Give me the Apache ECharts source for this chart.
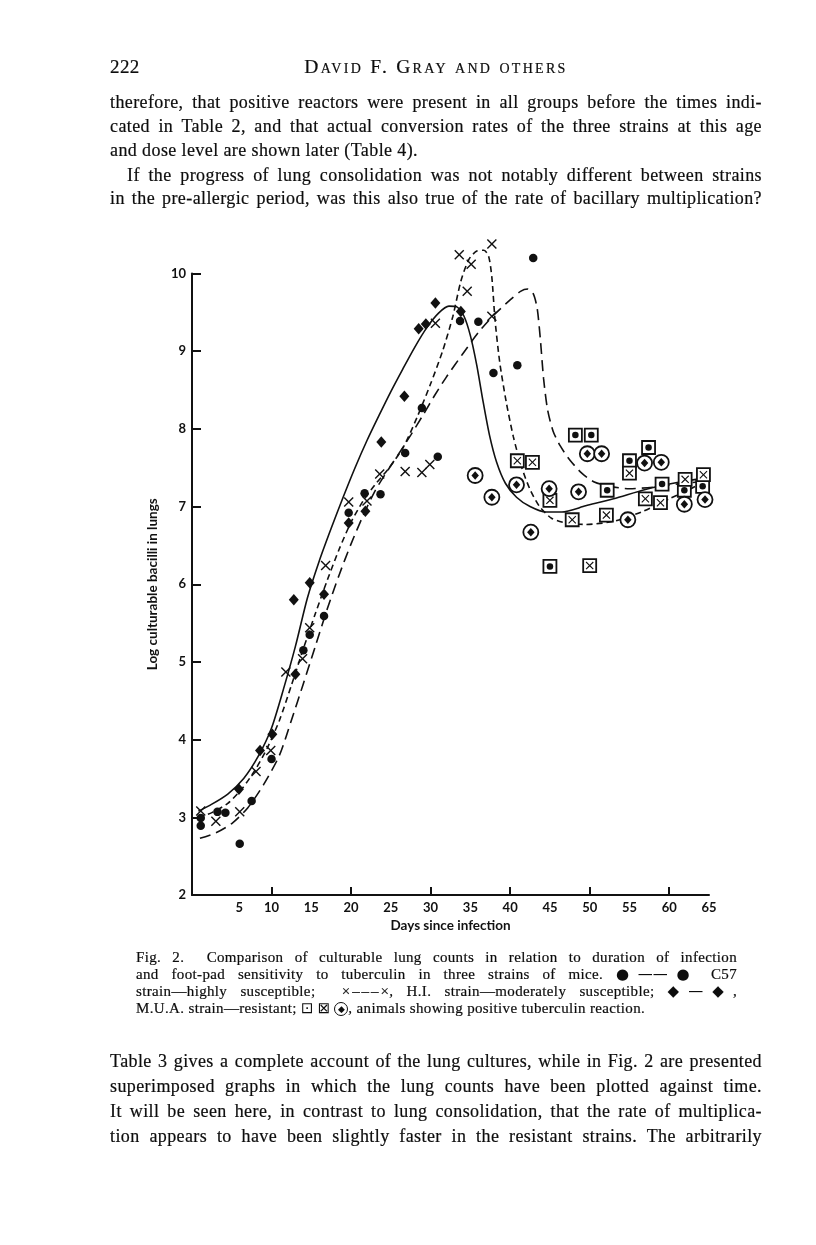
<!DOCTYPE html>
<html>
<head>
<meta charset="utf-8">
<script src="https://cdn.jsdelivr.net/npm/echarts@6/dist/echarts.min.js"></script>
<style>
  html,body{margin:0;padding:0;background:#fff;}
  #page{position:relative;width:816px;height:1245px;overflow:hidden;background:#fff;}
  #chart{position:absolute;left:0;top:0;width:816px;height:1245px;z-index:1;}
  .ln{position:absolute;white-space:nowrap;font-family:'Liberation Serif','Times New Roman',serif;font-size:18px;line-height:24px;letter-spacing:0.4px;color:#0d0d0d;z-index:2;-webkit-text-stroke:0.2px #0d0d0d;}
  .cap{font-size:15px;line-height:17px;letter-spacing:0.35px;}
  .j{text-align:justify;text-align-last:justify;}
  .sc{font-variant:small-caps;letter-spacing:2.3px;font-size:19.5px;}
  .cd{display:inline-block;width:0.8em;height:0.8em;border:1.3px solid #0d0d0d;border-radius:50%;text-align:center;line-height:0.8em;vertical-align:-1px;-webkit-text-stroke:0;letter-spacing:0;}
  .cd span{font-size:0.6em;vertical-align:top;}
  .sym{font-family:'DejaVu Sans',sans-serif;-webkit-text-stroke:0;letter-spacing:0;}
</style>
</head>
<body>
<div id="page">
  <div id="chart"></div>

  <div class="ln" style="top:55px;left:110px;font-size:19px;">222</div>
  <div class="ln sc" style="top:55px;left:276px;width:320px;text-align:center;">David F. Gray and others</div>

  <div class="ln bt j" data-w="652" style="top:89.5px;left:110px;">therefore, that positive reactors were present in all groups before the times indi-</div>
  <div class="ln bt j" data-w="652" style="top:114px;left:110px;">cated in Table 2, and that actual conversion rates of the three strains at this age</div>
  <div class="ln bt" style="top:138px;left:110px;">and dose level are shown later (Table 4).</div>
  <div class="ln bt j" data-w="635" style="top:162.5px;left:127px;">If the progress of lung consolidation was not notably different between strains</div>
  <div class="ln bt j" data-w="652" style="top:186px;left:110px;">in the pre-allergic period, was this also true of the rate of bacillary multiplication?</div>

  <div class="ln cap cg j" data-w="601" style="top:949px;left:136px;">Fig. 2.&nbsp; Comparison of culturable lung counts in relation to duration of infection</div>
  <div class="ln cap cg j" data-w="601" style="top:966px;left:136px;">and foot-pad sensitivity to tuberculin in three strains of mice. <span class="sym">●——●</span> C57</div>
  <div class="ln cap cg j" data-w="601" style="top:983px;left:136px;">strain—highly susceptible; &nbsp;×&#8202;–&#8202;–&#8202;–&#8202;×, H.I. strain—moderately susceptible; <span class="sym">◆—◆</span>,</div>
  <div class="ln cap cg" style="top:1000px;left:136px;">M.U.A. strain—resistant; <span class="sym">⊡</span> <span class="sym">⊠</span> <span class="cd"><span>◆</span></span>, animals showing positive tuberculin reaction.</div>

  <div class="ln bt j" data-w="652" style="top:1049px;left:110px;">Table 3 gives a complete account of the lung cultures, while in Fig. 2 are presented</div>
  <div class="ln bt j" data-w="652" style="top:1074px;left:110px;">superimposed graphs in which the lung counts have been plotted against time.</div>
  <div class="ln bt j" data-w="652" style="top:1099px;left:110px;">It will be seen here, in contrast to lung consolidation, that the rate of multiplica-</div>
  <div class="ln bt j" data-w="652" style="top:1124px;left:110px;">tion appears to have been slightly faster in the resistant strains. The arbitrarily</div>
</div>

<script>
// ---------- data (days since infection, log culturable bacilli) ----------
// fitted curves
const c57Curve = [[1.0,2.73],[3,2.8],[5,2.92],[7,3.12],[9,3.42],[11,3.8],[12.5,4.25],[14,4.72],[15.5,5.2],[17,5.68],[18.5,6.12],[20,6.52],[21.5,6.88],[23,7.2],[24.5,7.45],[26,7.68],[27.5,7.92],[29,8.17],[30.5,8.43],[32,8.67],[34,8.96],[36,9.24],[38,9.47],[40,9.66],[41.3,9.77],[42.2,9.8],[42.9,9.74],[43.4,9.55],[43.8,9.15],[44.2,8.65],[44.7,8.25],[45.4,7.97],[46.3,7.78],[47.5,7.6],[49,7.43],[50.5,7.32],[52.5,7.26],[55,7.23],[58,7.25],[61,7.29],[64,7.32]];
const hiCurve = [[0.8,3.0],[2.5,3.06],[4.5,3.18],[6.3,3.37],[8,3.62],[9.5,3.9],[11,4.25],[12.5,4.7],[14,5.17],[15.5,5.62],[17,6.05],[18.5,6.45],[20,6.8],[21.5,7.07],[23,7.28],[24.8,7.5],[26.6,7.77],[28.3,8.15],[30,8.58],[31.5,9.0],[32.8,9.45],[33.8,9.9],[34.8,10.18],[35.8,10.29],[36.7,10.3],[37.3,10.22],[37.7,9.95],[38.1,9.4],[38.7,8.85],[39.5,8.35],[40.4,7.9],[41.4,7.52],[42.5,7.22],[43.7,7.0],[45.2,6.85],[47,6.79],[49.5,6.77],[53,6.81],[56.5,6.93],[60,7.1],[62.5,7.22],[64,7.3]];
const muaCurve = [[0.8,3.08],[2.5,3.17],[4.5,3.3],[6.5,3.5],[8.3,3.78],[10,4.15],[11.5,4.65],[13,5.2],[14.5,5.82],[16,6.3],[17.5,6.72],[19,7.12],[20.5,7.5],[22,7.85],[23.5,8.17],[25,8.48],[26.5,8.77],[28,9.05],[29.5,9.3],[31,9.49],[32.3,9.58],[33.3,9.57],[34.2,9.45],[35,9.2],[35.8,8.82],[36.6,8.35],[37.4,7.92],[38.3,7.57],[39.4,7.3],[40.8,7.12],[42.5,7.0],[44.5,6.93],[46.5,6.93],[49.5,7.01],[53,7.1],[57,7.22],[61,7.31],[64,7.36]];

// individual animals, tuberculin negative
const c57Points = [[1.1,2.99],[1.1,2.89],[3.2,3.07],[4.2,3.06],[6.0,2.66],[7.5,3.21],[10.0,3.75],[14.0,5.15],[14.8,5.35],[16.6,5.59],[19.7,6.92],[21.7,7.17],[23.7,7.16],[26.8,7.69],[28.9,8.27],[30.9,7.64],[33.7,9.39],[36.0,9.38],[37.9,8.72],[40.9,8.82],[42.9,10.2]];
const hiPoints = [[1.1,3.08],[3.0,2.95],[6.0,3.07],[8.05,3.59],[9.9,3.86],[11.8,4.87],[13.9,5.04],[14.8,5.44],[16.8,6.24],[19.7,7.06],[22.0,7.07],[23.6,7.42],[26.8,7.45],[28.9,7.44],[29.9,7.54],[30.6,9.36],[33.6,10.24],[34.6,9.77],[35.1,10.12],[37.7,10.38],[37.7,9.45]];
const muaPoints = [[5.9,3.36],[8.55,3.86],[10.1,4.07],[12.8,5.80],[13.0,4.84],[14.8,6.02],[16.6,5.87],[19.7,6.79],[21.8,6.94],[23.8,7.83],[26.7,8.42],[28.5,9.29],[29.4,9.35],[30.6,9.62],[33.8,9.51]];

// individual animals, positive tuberculin reaction
const c57Positive = [[48.2,7.92],[50.2,7.92],[57.4,7.76],[55.0,7.59],[52.2,7.21],[59.1,7.29],[61.9,7.21],[64.2,7.26],[45.0,6.23]];
const hiPositive = [[40.9,7.59],[42.8,7.57],[55.0,7.43],[45.0,7.08],[57.0,7.10],[58.9,7.05],[62.0,7.35],[64.3,7.41],[47.8,6.83],[52.1,6.89],[50.0,6.24]];
const muaPositive = [[49.7,7.68],[51.5,7.68],[56.9,7.56],[59.0,7.57],[35.6,7.40],[37.7,7.12],[40.8,7.28],[44.9,7.23],[48.6,7.19],[61.9,7.03],[64.5,7.09],[54.8,6.83],[42.6,6.67]];

// axes
const xLabelValues = [5,10,15,20,25,30,35,40,45,50,55,60,65];
const xTickValues = [10,20,30,40,50,60];
const yLabelValues = [2,3,4,5,6,7,8,9,10];
const xName = 'Days since infection';
const yName = 'Log culturable bacilli in lungs';

// ---------- chart ----------
const INK = '#111111';
const crossPath = 'path://M0,1L1,0L5,4L9,0L10,1L6,5L10,9L9,10L5,6L1,10L0,9L4,5Z';
const axisFont = {fontFamily: 'Lato', fontWeight: 'bold', fontSize: 13, color: INK};

function curve(data, type) {
  return {type: 'line', data: data, symbol: 'none', smooth: 0.25, clip: false, z: 1,
          lineStyle: {color: INK, width: 1.6, type: type}, silent: true};
}
function pts(data, symbol, size, style, z) {
  return {type: 'scatter', data: data, symbol: symbol, symbolSize: size, clip: false, z: z,
          itemStyle: Object.assign({opacity: 1}, style), silent: true};
}

const chart = echarts.init(document.getElementById('chart'), null, {renderer: 'canvas'});
chart.setOption({
  animation: false,
  backgroundColor: 'transparent',
  grid: {left: 192, top: 273.5, width: 517, height: 621.5, containLabel: false},
  xAxis: {
    type: 'value', min: 0, max: 65, interval: 5,
    axisLine: {show: true, lineStyle: {color: INK, width: 2}},
    axisTick: {show: true, inside: true, length: 8, customValues: xTickValues, lineStyle: {color: INK, width: 2}},
    axisLabel: Object.assign({margin: 6, customValues: xLabelValues,
      formatter: function (v) { return v === 5 ? '{s|5}' : String(v); },
      rich: {s: Object.assign({padding: [0, 0, 0, 15]}, axisFont)}}, axisFont),
    splitLine: {show: false},
    name: xName, nameLocation: 'middle', nameGap: 24,
    nameTextStyle: Object.assign({}, axisFont, {fontSize: 13.5})
  },
  yAxis: {
    type: 'value', min: 2, max: 10, interval: 1,
    axisLine: {show: true, lineStyle: {color: INK, width: 2}},
    axisTick: {show: true, inside: true, length: 9, lineStyle: {color: INK, width: 2}},
    axisLabel: Object.assign({margin: 6, customValues: yLabelValues}, axisFont),
    splitLine: {show: false},
    name: yName, nameLocation: 'middle', nameGap: 20, nameRotate: 90,
    nameTextStyle: Object.assign({}, axisFont, {fontSize: 13.5})
  },
  series: [
    curve(muaCurve, 'solid'),
    curve(hiCurve, [6, 4]),
    curve(c57Curve, [11, 6]),
    pts(c57Points, 'circle', 8.5, {color: INK}, 3),
    pts(hiPoints, crossPath, 10, {color: INK}, 3),
    pts(muaPoints, 'diamond', [10, 11.5], {color: INK}, 3),
    pts(c57Positive, 'rect', 13, {color: '#fff', borderColor: INK, borderWidth: 1.8}, 4),
    pts(c57Positive, 'circle', 6.5, {color: INK}, 5),
    pts(hiPositive, 'rect', 13, {color: '#fff', borderColor: INK, borderWidth: 1.8}, 4),
    pts(hiPositive, crossPath, 8, {color: INK}, 5),
    pts(muaPositive, 'circle', 15, {color: '#fff', borderColor: INK, borderWidth: 1.8}, 4),
    pts(muaPositive, 'diamond', [7.5, 8.5], {color: INK}, 5)
  ]
});

// one common font size per text group, the largest at which every justified line fits its measure
function fitGroup(cls, base) {
  const els = Array.from(document.querySelectorAll('.' + cls));
  let fs = base;
  els.forEach(function (el) { el.style.fontSize = fs + 'px'; });
  els.forEach(function (el) {
    const w = parseFloat(el.dataset.w || '0');
    if (!w) return;
    el.style.width = 'auto';
    el.style.fontSize = fs + 'px';
    let guard = 0;
    while (el.getBoundingClientRect().width > w - 3 && guard < 80) {
      fs -= 0.1; el.style.fontSize = fs + 'px'; guard++;
    }
  });
  els.forEach(function (el) {
    el.style.fontSize = fs + 'px';
    if (el.dataset.w) el.style.width = el.dataset.w + 'px';
  });
}
fitGroup('bt', 18);
fitGroup('cg', 15);
</script>
</body>
</html>
